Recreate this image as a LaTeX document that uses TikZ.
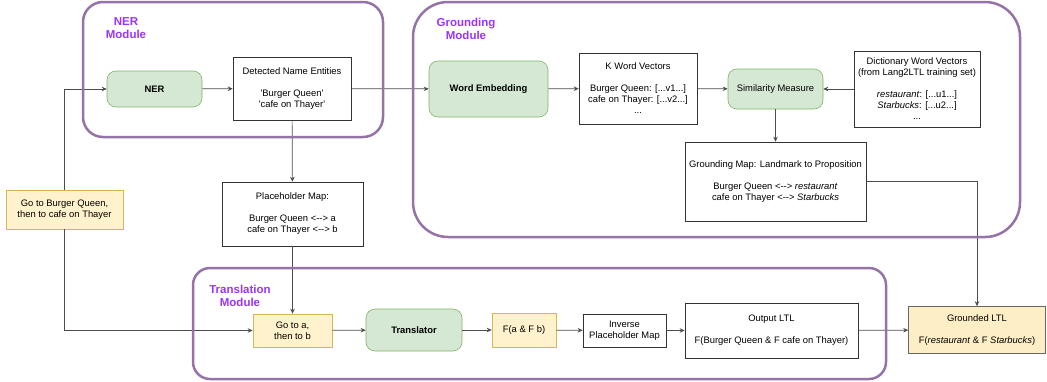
\documentclass[tikz,border=0pt]{standalone}
\usepackage{fontspec}
\newfontfamily\drawio{Liberation Sans}
\usetikzlibrary{arrows.meta}
\definecolor{modviola}{HTML}{9673A6}
\definecolor{titviola}{HTML}{9933FF}
\definecolor{verdefill}{HTML}{D5E8D4}
\definecolor{verdeline}{HTML}{82B366}
\definecolor{giallofill}{HTML}{FFF2CC}
\definecolor{giallofill2}{HTML}{FDEEC6}
\definecolor{gialloline}{HTML}{D6B656}
\definecolor{grigio}{HTML}{666666}
\newcommand{\ap}{\textquotesingle}
\newcommand{\doppia}{<-{}->}
\begin{document}
\begin{tikzpicture}
        [x=1pt,y=-1pt,>={Stealth[length=5pt,width=4.5pt]},
         every node/.style={font=\drawio\fontsize{9.4}{11}\selectfont,align=center,inner sep=0pt},
         plain box/.style={draw=black!80,line width=0.6pt,fill=white},
         green box/.style={draw=verdeline,line width=0.6pt,fill=verdefill,rounded corners=9pt},
         yellow box/.style={draw=gialloline,line width=0.6pt,fill=giallofill},
         module frame/.style={draw=modviola,line width=2.5pt},
         module title/.style={text=titviola,font=\drawio\bfseries\fontsize{11.5}{13}\selectfont},
         link/.style={->,draw=black!70,line width=0.7pt}]
        \useasboundingbox (0,0) rectangle (1047,381);
        %nodi modulo NER
            \node[green box,minimum width=95pt,minimum height=36pt] (ner) at (154.5,89) {\bfseries NER};
            \node[plain box,minimum width=118pt,minimum height=63pt] (entita) at (292,88.5)
                {Detected Name Entities\\[11pt] \ap Burger Queen\ap\\ \ap cafe on Thayer\ap};
            \node[yellow box,minimum width=117pt,minimum height=39pt] (frase) at (64.5,209.5)
                {Go to Burger Queen,\\ then to cafe on Thayer};
            \node[plain box,minimum width=141pt,minimum height=64pt] (mappa) at (292.5,214)
                {Placeholder Map:\\[11pt] Burger Queen \doppia{} a\\ cafe on Thayer \doppia{} b};
        %nodi modulo grounding
            \node[green box,minimum width=119pt,minimum height=56pt] (embed) at (488.5,89) {\bfseries Word Embedding};
            \node[plain box,minimum width=118pt,minimum height=71pt] (kvett) at (638,88.5)
                {K Word Vectors\\[11pt] Burger Queen: [...v1...]\\ cafe on Thayer: [...v2...]\\ ...};
            \node[green box,minimum width=95pt,minimum height=40pt] (simil) at (775.5,89) {Similarity Measure};
            \node[plain box,minimum width=126pt,minimum height=76pt] (dizio) at (917,89)
                {Dictionary Word Vectors\\ (from Lang2LTL training set)\\[11pt]
                 \textit{restaurant}: [...u1...]\\ \textit{Starbucks}: [...u2...]\\ ...};
            \node[plain box,minimum width=181pt,minimum height=79pt] (gmappa) at (775.5,181.5)
                {Grounding Map: Landmark to Proposition\\[11pt] Burger Queen \doppia{} \textit{restaurant}\\
                 cafe on Thayer \doppia{} \textit{Starbucks}};
        %nodi modulo traduzione
            \node[yellow box,minimum width=79pt,minimum height=33pt] (goto) at (292.5,330.5) {Go to a,\\ then to b};
            \node[green box,minimum width=96pt,minimum height=42pt] (trad) at (414,330) {\bfseries Translator};
            \node[yellow box,minimum width=64pt,minimum height=34pt] (ltlph) at (524,330) {F(a \& F b)};
            \node[plain box,minimum width=83pt,minimum height=33pt] (inversa) at (624.5,330.5) {Inverse\\ Placeholder Map};
            \node[plain box,minimum width=173pt,minimum height=55pt] (uscita) at (771.5,330.5)
                {Output LTL\\[11pt] F(Burger Queen \& F cafe on Thayer)};
            \node[draw=grigio,line width=0.6pt,fill=giallofill2,minimum width=137pt,minimum height=47pt] (finale) at (977,330)
                {Grounded LTL\\[11pt] F(\textit{restaurant} \& F \textit{Starbucks})};
        %collegamenti
            \draw[link] (frase.north) |- (ner.west);
            \draw[link] (frase.south) |- (goto.west);
            \draw[link] (ner) -- (entita);
            \draw[link] (entita) -- (embed);
            \draw[link] (entita) -- (mappa);
            \draw[link] (mappa) -- (goto);
            \draw[link] (embed) -- (kvett);
            \draw[link] (kvett) -- (simil);
            \draw[link] (dizio) -- (simil);
            \draw[link] (simil) -- (gmappa);
            \draw[link] (gmappa.east) -| (finale.north);
            \draw[link] (goto) -- (trad);
            \draw[link] (trad) -- (ltlph);
            \draw[link] (ltlph) -- (inversa);
            \draw[link] (inversa) -- (uscita);
            \draw[link] (uscita) -- (finale);
        %cornici dei moduli
            \draw[module frame,rounded corners=20pt] (83,2) rectangle (383,137);
            \draw[module frame,rounded corners=35pt] (413,2) rectangle (1020,237);
            \draw[module frame,rounded corners=17pt] (193,268) rectangle (886,379);
            \node[module title] (titner) at (126,28.5) {NER\\ Module};
            \node[module title] (titground) at (466,28.5) {Grounding\\ Module};
            \node[module title] (tittrad) at (240,296) {Translation\\ Module};
    \end{tikzpicture}
\end{document}
